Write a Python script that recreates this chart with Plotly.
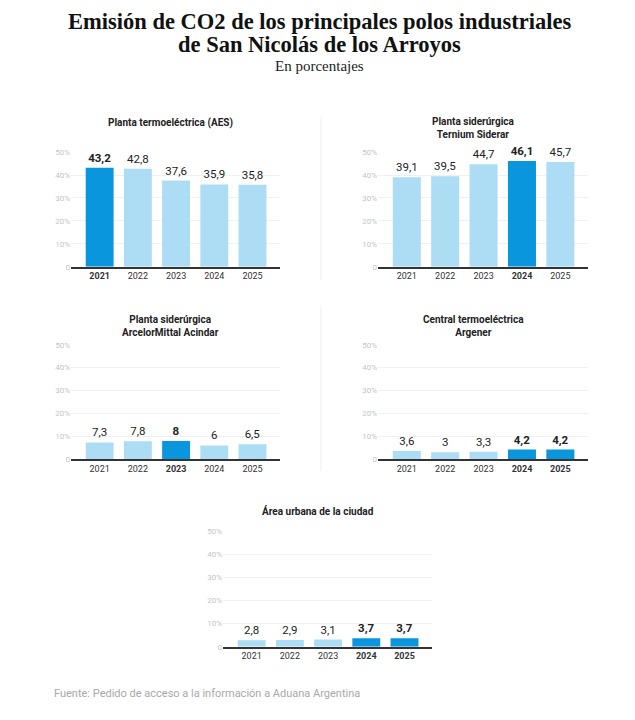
import plotly.graph_objs as go

# Datos (porcentaje de emisiones por año)
years = ['2021', '2022', '2023', '2024', '2025']
aes = [43.2, 42.8, 37.6, 35.9, 35.8]
ternium = [39.1, 39.5, 44.7, 46.1, 45.7]
acindar = [7.3, 7.8, 8, 6, 6.5]
argener = [3.6, 3, 3.3, 4.2, 4.2]
urbana = [2.8, 2.9, 3.1, 3.7, 3.7]

# Años destacados de cada panel
hl_aes = ['2021']
hl_ternium = ['2024']
hl_acindar = ['2023']
hl_argener = ['2024', '2025']
hl_urbana = ['2024', '2025']

titles = ['Planta termoeléctrica (AES)',
          'Planta siderúrgica<br>Ternium Siderar',
          'Planta siderúrgica<br>ArcelorMittal Acindar',
          'Central termoeléctrica<br>Argener',
          'Área urbana de la ciudad']
y_ticks = [0, 10, 20, 30, 40, 50]
y_ticktext = ['0', '10%', '20%', '30%', '40%', '50%']

# the page body has an 8px margin, so the figure is a bit smaller than the window
OFF = 8
W, H = 635 - 2 * OFF, 720 - 2 * OFF
DARK = '#0a96dc'
LIGHT = '#addcf5'
FONT = 'Roboto, Arial, sans-serif'
SERIF = 'Liberation Serif, serif'


def px(x):
    return (x - OFF) / W


def py(y):
    return 1 - (y - OFF) / H


# panel boxes in pixels: x0, x1, y_top(50%), y_bottom(0), title x, title y
panels = [
    (aes, hl_aes, 71, 280, 150, 266, 170, 120),
    (ternium, hl_ternium, 378, 588, 150, 266, 473, 126),
    (acindar, hl_acindar, 71, 280, 345, 461, 170, 326),
    (argener, hl_argener, 378, 588, 345, 461, 473, 326),
    (urbana, hl_urbana, 223, 432, 534, 651, 318, 513),
]


def fmt(v):
    return f'{v:g}'.replace('.', ',')


fig = go.Figure()
annotations = []
layout_axes = {}

for i, (vals, hl, x0, x1, yt, yb, tx, ty) in enumerate(panels):
    n = '' if i == 0 else str(i + 1)
    colors = [DARK if y in hl else LIGHT for y in years]
    labels = ['<b>' + fmt(v) + '</b>' if y in hl else fmt(v) for y, v in zip(years, vals)]
    ticktext = ['<b>' + y + '</b>' if y in hl else y for y in years]
    fig.add_trace(go.Bar(x=years, y=vals, marker=dict(color=colors, line=dict(width=0)),
                         text=labels, textposition='outside', cliponaxis=False,
                         constraintext='none',
                         textfont=dict(family=FONT, size=11.5, color='#222'),
                         hoverinfo='x+y', xaxis='x' + n, yaxis='y' + n, showlegend=False))
    layout_axes['xaxis' + n] = dict(domain=[px(x0), px(x1)], anchor='y' + n,
                                    range=[-0.75, 4.72], tickvals=years, ticktext=ticktext,
                                    showgrid=False, showline=True, linecolor='#333',
                                    linewidth=1.5, ticks='', fixedrange=True,
                                    tickfont=dict(family=FONT, size=9, color='#333'))
    layout_axes['yaxis' + n] = dict(domain=[py(yb), py(yt)], anchor='x' + n,
                                    range=[0, 50], tickvals=y_ticks, ticktext=y_ticktext,
                                    showgrid=True, gridcolor='#f0f0f0', gridwidth=1,
                                    zeroline=False, showline=False, ticks='',
                                    tickfont=dict(family=FONT, size=8, color='#c4c4c4'))
    annotations.append(dict(text='<b>' + titles[i] + '</b>', x=px(tx), y=py(ty),
                            xref='paper', yref='paper', showarrow=False,
                            xanchor='center', yanchor='middle',
                            font=dict(family=FONT, size=10, color='#222')))

# Título (dos líneas), subtítulo y fuente
for line, ly in [('Emisión de CO2 de los principales polos industriales', 18),
                 ('de San Nicolás de los Arroyos', 41)]:
    annotations.append(dict(text='<b>' + line + '</b>', x=px(319), y=py(ly),
                            xref='paper', yref='paper', showarrow=False,
                            xanchor='center', yanchor='middle',
                            font=dict(family=SERIF, size=22.5, color='#111')))
annotations.append(dict(text='En porcentajes', x=px(319), y=py(63), xref='paper', yref='paper',
                        showarrow=False, xanchor='center', yanchor='middle',
                        font=dict(family=SERIF, size=15, color='#222')))
annotations.append(dict(text='Fuente: Pedido de acceso a la información a Aduana Argentina',
                        x=px(52), y=py(698), xref='paper', yref='paper', showarrow=False,
                        xanchor='left', yanchor='middle',
                        font=dict(family=FONT, size=11, color='#a8a8a8')))

# Divisores verticales
shapes = [
    dict(type='line', xref='paper', yref='paper', x0=px(321), x1=px(321), y0=py(113), y1=py(280),
         line=dict(color='#eeeeee', width=1)),
    dict(type='line', xref='paper', yref='paper', x0=px(321), x1=px(321), y0=py(305), y1=py(473),
         line=dict(color='#eeeeee', width=1)),
]

fig.update_layout(width=W, height=H, margin=dict(l=0, r=0, t=0, b=0),
                  paper_bgcolor='white', plot_bgcolor='white', bargap=0.27,
                  annotations=annotations, shapes=shapes, **layout_axes)

fig.write_html('out.html')
